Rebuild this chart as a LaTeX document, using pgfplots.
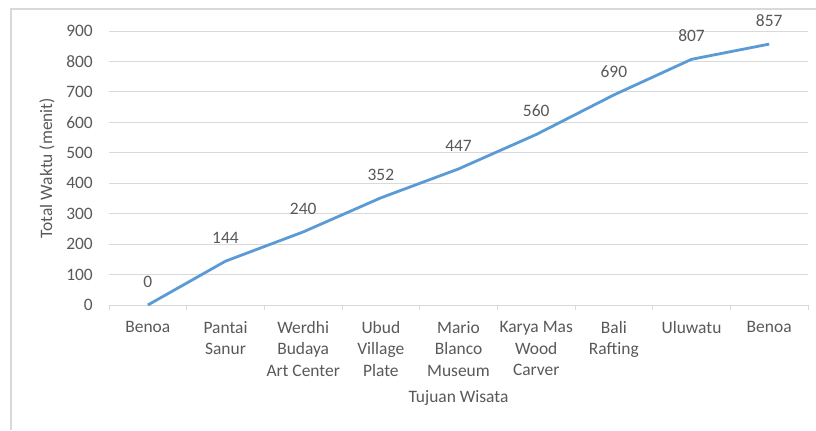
\documentclass[border=0pt]{standalone}
\usepackage{pgfplots}
\pgfplotsset{compat=1.18}
\usepackage{fontspec}
\setmainfont{Carlito}
\definecolor{linec}{HTML}{5B9BD5}
\definecolor{gridc}{HTML}{D9D9D9}
\definecolor{txt}{HTML}{595959}
\begin{document}
\begin{tikzpicture}[x=1bp,y=1bp]
\useasboundingbox (0,0) rectangle (816,430);
\fill[white] (0,0) rectangle (816,430);
\draw[gridc, line width=1.2bp] (11,0) -- (11,421) -- (816,421);
\begin{axis}[
  at={(109bp,125bp)}, anchor=south west,
  scale only axis, width=699bp, height=274bp,
  xmin=-0.5, xmax=8.5, ymin=0, ymax=900,
  axis x line*=bottom, axis y line*=left,
  y axis line style={draw=none},
  x axis line style={gridc, line width=0.9bp},
  ytick={0,100,...,900},
  ymajorgrids, grid style={gridc, line width=0.9bp},
  major tick length=0pt,
  xtick={0,...,8},
  minor xtick={-0.5,0.5,...,8.5},
  minor tick length=5bp,
  tick align=outside,
  minor tick style={gridc, line width=0.9bp},
  xticklabels={Benoa, Pantai\\Sanur, Werdhi\\Budaya\\Art Center, Ubud\\Village\\Plate, Mario\\Blanco\\Museum, Karya Mas\\Wood\\Carver, Bali\\Rafting, Uluwatu, Benoa},
  x tick label style={align=center, font=\fontsize{17.5}{21.7}\selectfont, text=txt, inner sep=0pt, anchor=north, yshift=-16bp},
  y tick label style={font=\fontsize{17.5}{20}\selectfont, text=txt, inner sep=0pt, anchor=east, xshift=-16bp},
  /pgf/number format/assume math mode=true,
  xlabel={Tujuan Wisata},
  ylabel={Total Waktu (menit)},
  xlabel style={font=\fontsize{17.5}{20}\selectfont, text=txt, at={(axis description cs:0.5,0)}, anchor=center, yshift=-93bp},
  ylabel style={font=\fontsize{17.5}{20}\selectfont, text=txt, at={(axis description cs:0,0.5)}, anchor=center, yshift=62bp},
  nodes near coords,
  nodes near coords style={font=\fontsize{17.5}{20}\selectfont, text=txt, anchor=south, inner sep=0pt, yshift=16bp},
  clip=false,
]
\addplot[linec, line width=2.8bp, mark=none] coordinates {
(0,0) (1,144) (2,240) (3,352) (4,447) (5,560) (6,690) (7,807) (8,857)
};
\end{axis}
\end{tikzpicture}
\end{document}
